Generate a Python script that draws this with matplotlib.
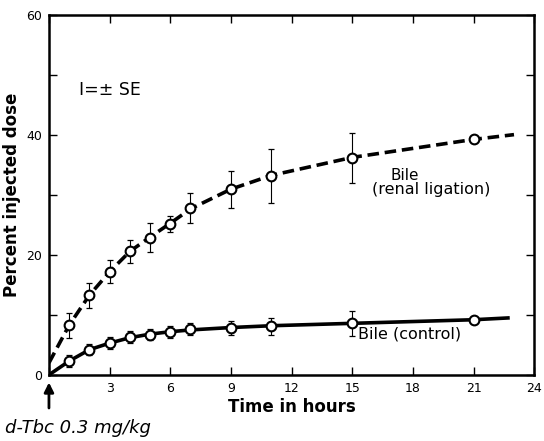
import matplotlib.pyplot as plt

# sampling times (hours)
hours_ligation = [1, 2, 3, 4, 5, 6, 7, 9, 11, 15, 21]
bile_ligation = [8.3, 13.3, 17.2, 20.6, 22.9, 25.2, 27.9, 31.0, 33.2, 36.2, 39.3]
se_ligation = [2.1, 2.1, 1.9, 1.9, 2.4, 1.4, 2.5, 3.1, 4.5, 4.2, 0]

hours_control = [1, 2, 3, 4, 5, 6, 7, 9, 11, 15, 21]
bile_control = [2.3, 4.2, 5.3, 6.3, 6.7, 7.2, 7.6, 7.8, 8.1, 8.6, 9.2]
se_control = [1.0, 0.9, 1.0, 1.0, 0.9, 1.0, 1.0, 1.2, 1.4, 2.1, 0]

# fitted curves as drawn in the figure
curve_ligation_t = [0, 1, 2, 3, 4, 5, 6, 7, 9, 11, 15, 21, 23]
curve_ligation_y = [2.0, 8.3, 13.3, 17.2, 20.6, 23.0, 25.3, 27.7, 31.0, 33.3, 36.3, 39.3, 40.1]
curve_control_t = [0, 1, 2, 3, 4, 5, 6, 7, 9, 11, 15, 21, 22.7]
curve_control_y = [0, 2.3, 4.2, 5.3, 6.2, 6.8, 7.2, 7.5, 7.9, 8.2, 8.6, 9.2, 9.5]

fig = plt.figure(figsize=(5.44, 4.41), dpi=100)
ax = fig.add_axes([0.090, 0.150, 0.892, 0.815])

ax.plot(curve_ligation_t, curve_ligation_y, color='black', lw=2.6,
        linestyle=(0, (3.2, 1.6)), zorder=2)
ax.plot(curve_control_t, curve_control_y, color='black', lw=2.6, zorder=2)

for t, y, e in zip(hours_ligation, bile_ligation, se_ligation):
    if e > 0:
        ax.errorbar(t, y, yerr=e, fmt='none', ecolor='black', elinewidth=0.8,
                    capsize=2.5, capthick=0.9, zorder=1)
for t, y, e in zip(hours_control, bile_control, se_control):
    if e > 0:
        ax.errorbar(t, y, yerr=e, fmt='none', ecolor='black', elinewidth=0.8,
                    capsize=2.5, capthick=0.9, zorder=1)

ax.plot(hours_ligation, bile_ligation, 'o', ms=7, mfc='white', mec='black', mew=1.5, zorder=3)
ax.plot(hours_control, bile_control, 'o', ms=7, mfc='white', mec='black', mew=1.5, zorder=3)

ax.set_xlim(0, 24)
ax.set_ylim(0, 60)
ax.set_xticks(range(0, 25, 3))
ax.set_xticklabels(['', '3', '6', '9', '12', '15', '18', '21', '24'])
ax.set_yticks(range(0, 61, 10))
ax.set_yticklabels(['0', '', '20', '', '40', '', '60'])
ax.tick_params(direction='in', length=6, width=1, top=True, right=True,
               labelsize=9, pad=5)
for s in ax.spines.values():
    s.set_linewidth(1.8)

ax.set_xlabel('Time in hours', fontsize=12, fontweight='bold', labelpad=2)
ax.set_ylabel('Percent injected dose', fontsize=12, fontweight='bold')
ax.yaxis.set_label_coords(-0.058, 0.5)

ax.text(1.5, 47.5, 'I=± SE', fontsize=12.5, va='center')
ax.text(16.9, 32.6, 'Bile', fontsize=11)
ax.text(16.0, 30.2, '(renal ligation)', fontsize=11.5)
ax.text(15.3, 6.0, 'Bile (control)', fontsize=11.5)

ax.annotate('', xy=(0, -0.8), xytext=(0, -6.0), xycoords='data',
            arrowprops=dict(arrowstyle='-|>', color='black', lw=2, mutation_scale=14),
            annotation_clip=False)
fig.text(0.01, 0.018, 'd-Tbc 0.3 mg/kg', fontsize=13, style='italic')

fig.savefig('out.png', dpi=100)
